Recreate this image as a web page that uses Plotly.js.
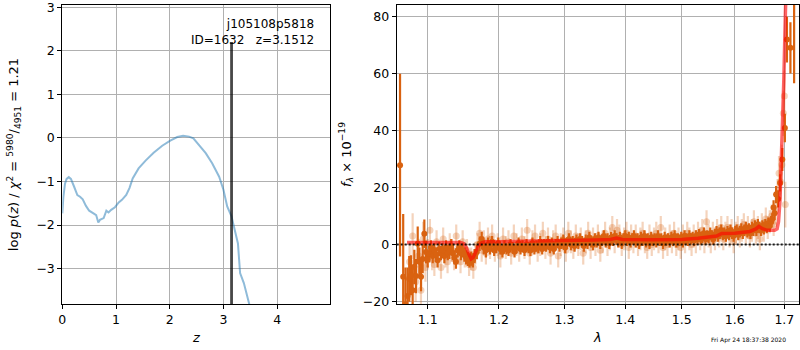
<!DOCTYPE html>
<html>
<head>
<meta charset="utf-8">
<script src="https://cdn.plot.ly/plotly-3.0.1.min.js"></script>
<style>html,body{margin:0;padding:0;background:#fff;}#chart{width:800px;height:350px;}</style>
</head>
<body>
<div id="chart"></div>
<script>
// ---- left panel: redshift PDF ----
const pzZ = [0.0,0.02,0.05,0.08,0.12,0.16,0.22,0.28,0.33,0.38,0.44,0.50,0.58,0.63,0.67,0.70,0.77,0.82,0.86,0.91,0.98,1.05,1.11,1.19,1.25,1.31,1.42,1.55,1.70,1.86,2.01,2.14,2.25,2.36,2.44,2.54,2.67,2.79,2.92,3.00,3.07,3.15,3.23,3.27,3.31,3.38,3.48,3.60];
const pzLog = [-1.73,-1.35,-1.05,-0.94,-0.90,-0.94,-1.12,-1.31,-1.35,-1.41,-1.56,-1.67,-1.73,-1.77,-1.94,-1.88,-1.84,-1.67,-1.71,-1.65,-1.59,-1.48,-1.42,-1.31,-1.15,-0.93,-0.70,-0.52,-0.34,-0.18,-0.06,0.02,0.05,0.03,-0.01,-0.16,-0.35,-0.58,-0.89,-1.19,-1.57,-1.80,-2.19,-2.42,-3.10,-3.33,-3.81,-4.5];
const zBest = 3.1512;
const zLineTop = 2.2;
const objName = "j105108p5818";
const objId = 1632;
const chi2Num = 5980, chi2Den = 4951, chi2Red = "1.21";

// ---- right panel: spectrum (light, semi-transparent points) ----
const lightLam = [
  1.076,1.080,1.084,1.088,1.091,1.094,1.097,1.100,1.103,1.106,
  1.109,1.112,1.115,1.118,1.121,1.124,1.127,1.130,1.133,1.136,
  1.139,1.142,1.145,1.148,1.151,1.154,1.157,1.160,1.163,1.166,
  1.169,1.172,1.175,1.178,1.181,1.184,1.187,1.190,1.194,1.198,
  1.202,1.206,1.210,1.214,1.218,1.222,1.226,1.230,1.234,1.238,
  1.242,1.246,1.250,1.254,1.258,1.262,1.266,1.270,1.274,1.278,
  1.282,1.286,1.290,1.294,1.298,1.302,1.306,1.310,1.314,1.318,
  1.322,1.326,1.330,1.334,1.338,1.342,1.346,1.350,1.354,1.358,
  1.362,1.366,1.370,1.374,1.378,1.382,1.386,1.390,1.394,1.398,
  1.402,1.406,1.410,1.414,1.418,1.422,1.426,1.430,1.434,1.438,
  1.442,1.446,1.450,1.454,1.458,1.462,1.466,1.470,1.474,1.478,
  1.482,1.486,1.490,1.494,1.498,1.502,1.506,1.510,1.514,1.518,
  1.522,1.526,1.530,1.534,1.538,1.542,1.546,1.550,1.554,1.558,
  1.562,1.566,1.570,1.574,1.578,1.582,1.586,1.590,1.594,1.598,
  1.602,1.606,1.610,1.614,1.618,1.622,1.626,1.630,1.634,1.638,
  1.642,1.646,1.650,1.654,1.658,1.662,1.666,1.670,1.674,1.678,
  1.682,1.686,1.689,1.692,1.695,1.698,1.700,1.702];
const lightFlux = [
  -6,3,-13,-4,-16,2,-8,-3,5,-5,
  -7,1,-3,-8,2,-4,-6,0,-2,-5,
  3,-3,-6,1,-4,-2,-7,-5,-8,-3,
  0,4,-2,1,-3,2,-1,3,-2,0,
  -4,2,-1,1,-3,3,0,-2,2,-1,
  5,-3,1,3,-2,0,4,-1,2,-3,
  1,3,-4,0,2,-2,4,1,-1,3,
  0,2,-3,1,4,-1,2,0,3,-2,
  1,4,0,2,6,1,5,3,0,2,
  4,-1,3,1,3,0,2,4,1,-1,
  3,0,2,4,1,6,-1,2,0,3,
  1,4,0,2,-1,3,1,4,2,0,
  3,1,4,2,5,1,8,3,1,4,
  2,5,3,6,2,4,6,3,5,1,
  4,6,3,5,7,4,6,3,5,8,
  4,6,2,7,5,9,6,8,10,7,
  12,18,25,22,28,46,52,14];
const lightErr = [
  7,8,7,6,6,6,5,5,4,4,
  4,4,4,4,4,4,4,4,4,4,
  4,4,4,4,4,4,4,4,4,4,
  4,4,4,4,4,4,4,4,4,4,
  4,4,4,4,4,4,4,4,4,4,
  4,4,4,4,4,4,4,4,4,4,
  4,4,4,4,4,4,4,4,4,4,
  4,4,4,4,4,4,4,4,4,4,
  4,4,4,4,4,4,4,4,4,4,
  4,4,4,4,4,4,4,4,4,4,
  4,4,4,4,4,4,4,4,4,4,
  4,4,4,4,4,4,4,4,4,4,
  4,4,4,4,4,4,4,4,4,4,
  4,4,4,4,4,4,4,4,4,4,
  4,4,4,4,4,4,4,4,4,4,
  4,4,4,4,4,4,4,4,4,4,
  5,5,6,6,7,8,9,8];

// ---- right panel: spectrum (opaque points) ----
const darkLam = [
  1.0635,1.0676,1.0705,1.0733,1.0755,1.0778,1.0800,1.0822,1.0845,1.0867,
  1.0889,1.0911,1.0933,1.0955,1.0977,1.1000,1.1022,1.1045,1.1068,1.1090,
  1.1113,1.1134,1.1157,1.1180,1.1203,1.1226,1.1250,1.1273,1.1296,1.1320,
  1.1343,1.1366,1.1386,1.1410,1.1433,1.1456,1.1480,1.1504,1.1528,1.1552,
  1.1576,1.1600,1.1624,1.1648,1.1680,1.1720,1.1750,1.1780,1.1810,1.1840,
  1.1870,1.1900,1.1930,1.1960,1.1990,1.2020,1.2050,1.2080,1.2110,1.2140,
  1.2170,1.2200,1.2230,1.2260,1.2290,1.2320,1.2350,1.2380,1.2410,1.2440,
  1.2470,1.2500,1.2530,1.2560,1.2590,1.2620,1.2650,1.2680,1.2710,1.2740,
  1.2770,1.2800,1.2830,1.2860,1.2890,1.2920,1.2950,1.2980,1.3010,1.3040,
  1.3070,1.3100,1.3130,1.3160,1.3190,1.3220,1.3250,1.3280,1.3310,1.3340,
  1.3370,1.3400,1.3430,1.3460,1.3490,1.3520,1.3550,1.3580,1.3610,1.3640,
  1.3670,1.3700,1.3730,1.3760,1.3790,1.3820,1.3850,1.3880,1.3910,1.3940,
  1.3970,1.4000,1.4030,1.4060,1.4090,1.4120,1.4150,1.4180,1.4210,1.4240,
  1.4270,1.4300,1.4330,1.4360,1.4390,1.4420,1.4450,1.4480,1.4510,1.4540,
  1.4570,1.4600,1.4630,1.4660,1.4690,1.4720,1.4750,1.4780,1.4810,1.4840,
  1.4870,1.4900,1.4930,1.4960,1.4990,1.5020,1.5050,1.5080,1.5110,1.5140,
  1.5170,1.5200,1.5230,1.5260,1.5290,1.5320,1.5350,1.5380,1.5410,1.5440,
  1.5470,1.5500,1.5530,1.5560,1.5590,1.5620,1.5650,1.5680,1.5710,1.5740,
  1.5770,1.5800,1.5830,1.5860,1.5890,1.5920,1.5950,1.5980,1.6010,1.6040,
  1.6070,1.6100,1.6130,1.6160,1.6190,1.6220,1.6250,1.6280,1.6310,1.6340,
  1.6370,1.6400,1.6430,1.6460,1.6490,1.6520,1.6550,1.6580,1.6610,1.6640,
  1.6670,1.6700,1.6730,1.6750,1.6778,1.6800,1.6830,1.6870,1.6912,1.6958,
  1.7011,1.7054,1.7127,1.7204];
const darkFlux = [
  27.8,-11.3,-21,-18,-12,-10.7,-16,-7.8,-11,0.3,
  -6,-11.3,-5,3.8,-2.6,-5,-3.3,-1,-4,-2,
  -3.5,-5.5,-1.5,-3,-2,-4,-1,-3,-2.5,-0.5,
  -3,-4.5,-6,-2,-1,-3,-2,-3.5,-4.5,-5,
  -5.5,-4.9,-5.5,-4,-2.6,0.3,2,-1,-2,0,
  -1.5,1,-2,-1,0.5,-1.5,-2.5,-0.5,-1.5,-2,
  0,-1,-2.5,-1,0.5,-1.5,-0.5,-2,0,-1,
  -2,0.5,-1.5,-0.5,-1,1,-1.5,0,-0.5,1,
  -1,0.5,-1.5,0,1,-0.5,0.5,1.5,-1,0.5,
  2,0,1,-0.5,1.5,0.5,2,1,-0.5,1.5,
  0.5,2.5,1,0,2,1,2.5,0.5,1.5,3,
  1,2,0.5,2.5,1.5,3,2,1,2.5,0.5,
  2,3,1.5,2.5,1,2,3,1,2,0.5,
  2.5,1.5,3,1,2,0.5,2.5,1.5,2,1,
  3,1.5,2,0.5,2.5,1.5,2,1,2.5,1.5,
  3,1,2,1.5,2.5,1,3,2,1.5,3,
  2,2.5,1.5,3,2,3.5,2,2.5,4,2,
  3,2.5,4,3,2,3.5,4.5,3,4,5,
  3.5,4,3,4.5,3.5,5,4,3,4.5,5,
  3.5,4.5,5.5,4,5,6,4.5,5.5,4,6,
  5,6.5,5,7,6,5,6.5,5.5,7,6,
  7.5,6.5,8,9,13,11,17.5,16,21.6,29.8,
  40.8,71.8,68.9,92];
const darkErr = [
  32,22,13,10,8,7,8,6,6,6,
  5,5,5,5,4,3,3,2.5,2.5,2.5,
  2.5,2.5,2.5,2.5,2.5,2.5,2.5,2.5,2.5,2.5,
  2.5,2.5,2.5,2.5,2.5,2.5,2.5,2.5,2.5,2.5,
  2.5,2.5,2.5,2.5,2.5,2.5,2.5,2.5,2.5,2.5,
  2,2,2,2,2,2,2,2,2,2,
  2,2,2,2,2,2,2,2,2,2,
  2,2,2,2,2,2,2,2,2,2,
  2,2,2,2,2,2,2,2,2,2,
  2,2,2,2,2,2,2,2,2,2,
  2,2,2,2,2,2,2,2,2,2,
  2,2,2,2,2,2,2,2,2,2,
  2,2,2,2,2,2,2,2,2,2,
  2,2,2,2,2,2,2,2,2,2,
  2,2,2,2,2,2,2,2,2,2,
  2,2,2,2,2,2,2,2,2,2,
  2,2,2,2,2,2,2,2,2,2,
  2,2,2,2,2,2,2,2,2,2,
  2,2,2,2,2,2,2,2,2,2,
  2,2,2,2,2,2,2,2,2,2,
  2,2,2,2,2,2,2,2,2,2,
  2,2,2,2,2.5,2.5,3,3,3,4,
  5,8,9,35.5];

// ---- right panel: model ----
const modelLam = [1.0726,1.100,1.130,1.145,1.150,1.154,1.157,1.160,1.163,1.166,1.170,1.175,1.180,1.200,1.250,1.300,1.350,1.375,1.385,1.395,1.450,1.500,1.530,1.555,1.565,1.575,1.600,1.630,1.642,1.648,1.655,1.665,1.680,1.685,1.688,1.691,1.6945,1.6964,1.699,1.7022,1.704];
const modelFlux = [0.7,0.7,0.7,0.7,0.3,-1.5,-3.5,-5.0,-4.5,-2.5,-0.5,0.6,1.0,1.0,1.1,1.4,1.6,1.8,2.3,1.8,1.7,1.8,2.2,2.6,3.0,3.9,4.0,4.6,5.5,6.4,5.6,5.0,5.0,5.5,8,15.5,33,41,58,81,92];

const lamTicks = [1.1,1.2,1.3,1.4,1.5,1.6,1.7];
const lamTickText = ["1.1","1.2","1.3","1.4","1.5","1.6","1.7"];
const stamp = "Fri Apr 24 18:37:38 2020";

const orange = 'rgb(217,98,16)';
const orangeLight = 'rgba(217,98,16,0.28)';

const traces = [
  {x: pzZ, y: pzLog, xaxis:'x', yaxis:'y', mode:'lines', type:'scatter',
   line:{color:'rgba(31,119,180,0.5)', width:2}},
  {x: [zBest, zBest], y: [-5, zLineTop], xaxis:'x', yaxis:'y', mode:'lines', type:'scatter',
   line:{color:'rgba(0,0,0,0.72)', width:2.8}},
  {x: lightLam, y: lightFlux, xaxis:'x2', yaxis:'y2', mode:'markers', type:'scatter',
   marker:{color:orangeLight, size:7, line:{width:0}},
   error_y:{type:'data', array:lightErr, visible:true, color:orangeLight, thickness:2.2, width:0}},
  {x: darkLam, y: darkFlux, xaxis:'x2', yaxis:'y2', mode:'markers', type:'scatter',
   marker:{color:orange, size:6, line:{width:0}},
   error_y:{type:'data', array:darkErr, visible:true, color:orange, thickness:2.2, width:0}},
  {x: modelLam, y: modelFlux, xaxis:'x2', yaxis:'y2', mode:'lines', type:'scatter',
   line:{color:'rgba(255,0,0,0.6)', width:3.5}},
];

const axisCommon = {
  showline:true, linecolor:'black', linewidth:1, mirror:true,
  ticks:'outside', ticklen:4, tickcolor:'black', tickwidth:1,
  showgrid:true, gridcolor:'#b0b0b0', gridwidth:1, zeroline:false,
  tickfont:{family:'DejaVu Sans', size:12.5, color:'black'},
  automargin:false, ticklabeloverflow:'allow',
};

const layout = {
  width:800, height:350,
  margin:{l:0,r:0,t:0,b:0},
  paper_bgcolor:'white', plot_bgcolor:'white',
  showlegend:false,
  font:{family:'DejaVu Sans', color:'black'},
  xaxis: Object.assign({}, axisCommon, {
    domain:[0.0779,0.4129], range:[0,4.99], anchor:'y', dtick:1, tick0:0,
    title:{text:'<i>z</i>', font:{size:13}, standoff:6}
  }),
  yaxis: Object.assign({}, axisCommon, {
    domain:[0.13143,0.98571], range:[-3.81,3.05], anchor:'x', dtick:1, tick0:0,
    title:{text:'log <i>p</i>(<i>z</i>) / <i>χ</i><sup>2</sup> = <sup>' + chi2Num + '</sup>/<sub>' + chi2Den + '</sub> = ' + chi2Red, font:{size:13}, standoff:14}
  }),
  xaxis2: Object.assign({}, axisCommon, {
    domain:[0.4959,0.99875], type:'log', range:[Math.log10(1.0592), Math.log10(1.7307)], anchor:'y2',
    tickmode:'array', tickvals:lamTicks, ticktext:lamTickText,
    title:{text:'<i>λ</i>', font:{size:13}, standoff:6}
  }),
  yaxis2: Object.assign({}, axisCommon, {
    domain:[0.13143,0.98571], range:[-20.8,83.9], anchor:'x2', dtick:20, tick0:0,
    title:{text:'<i>f</i><sub><i>λ</i></sub> × 10<sup>−19</sup>', font:{size:13}, standoff:8}
  }),
  shapes:[
    {type:'line', xref:'x2 domain', yref:'y2', x0:0, x1:1, y0:0, y1:0,
     line:{color:'rgba(0,0,0,0.85)', width:2, dash:'2px,2px'}, layer:'above'}
  ],
  annotations:[
    {xref:'paper', yref:'paper', x:316/800, y:1-15/350, xanchor:'right', yanchor:'top', align:'right',
     showarrow:false, text: objName + '<br>ID=' + objId + '&nbsp;&nbsp;&nbsp;z=' + zBest.toFixed(4),
     font:{family:'DejaVu Sans', size:12, color:'black'}},
    {xref:'paper', yref:'paper', x:788/800, y:1-339.5/350, xanchor:'right', yanchor:'middle',
     showarrow:false, text: stamp, font:{family:'DejaVu Sans', size:6, color:'black'}}
  ]
};

Plotly.newPlot('chart', traces, layout, {staticPlot:true, displayModeBar:false});
</script>
</body>
</html>
